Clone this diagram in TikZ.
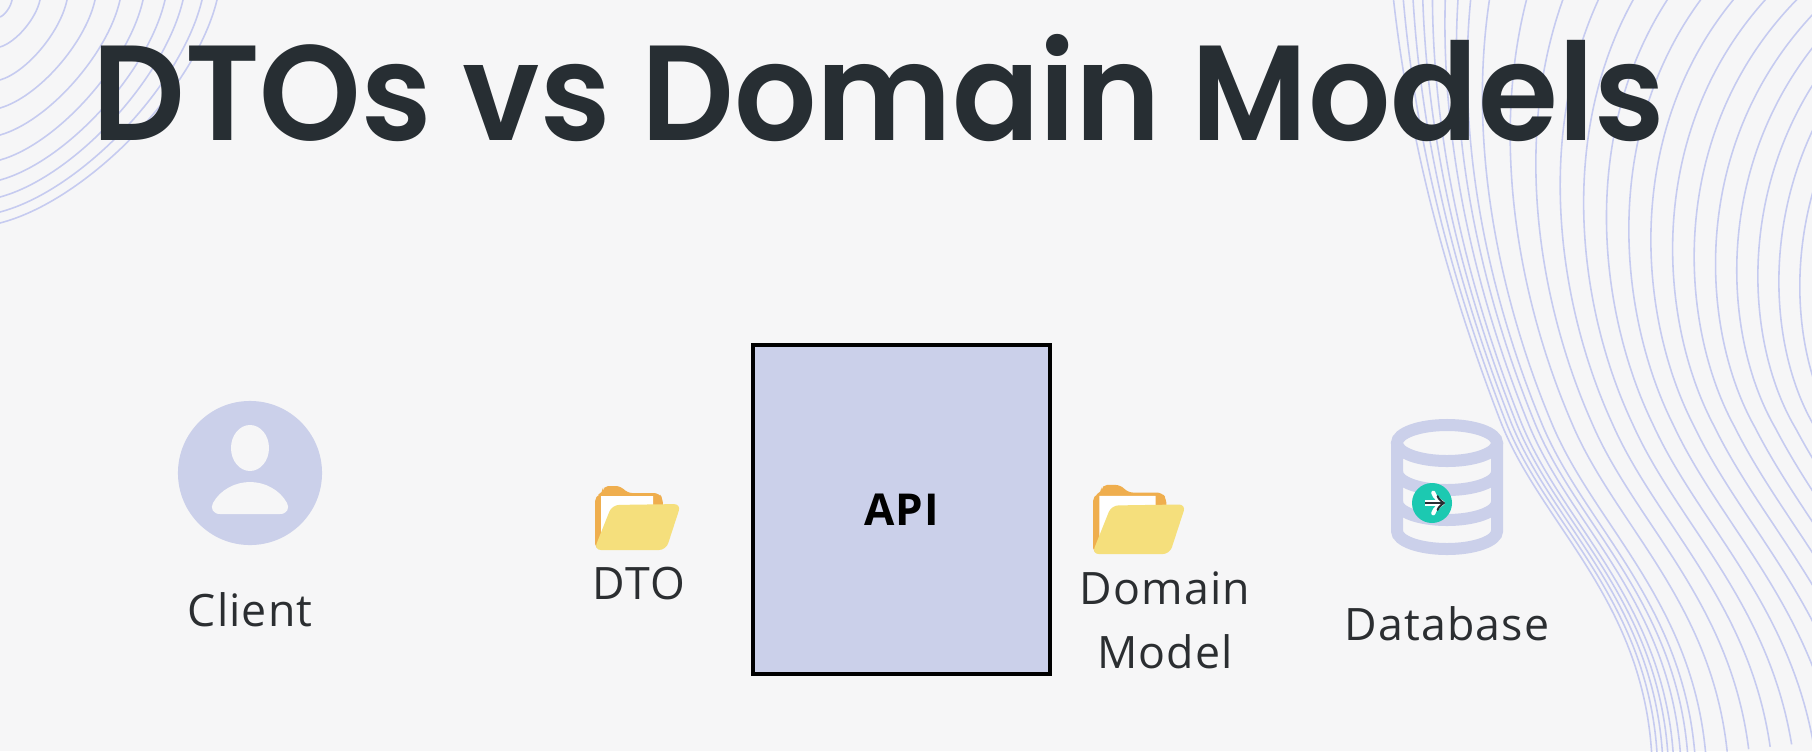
\documentclass[tikz,border=0pt]{standalone}
\usepackage{fontspec}
\setmainfont[LetterSpace=2.5]{Open Sans}
\newfontfamily\titlefont{Poppins SemiBold}
\usetikzlibrary{arrows}
\definecolor{slidebg}{HTML}{F6F6F7}
\definecolor{waveblue}{HTML}{C6CBF0}
\definecolor{iconblue}{HTML}{CBD0EA}
\definecolor{titleink}{HTML}{272E33}
\definecolor{labelink}{HTML}{2B2E31}
\definecolor{folderback}{HTML}{EFAE4E}
\definecolor{folderfront}{HTML}{F5DF7C}
\definecolor{dbteal}{HTML}{1CC9B1}
\newcommand{\wavept}[4]{({#1+\t*(#3-#1)},{#2+\t*(#4-#2)})}
\tikzset{
 waveline/.style={waveblue, line width=.45pt},
 iconlabel/.style={labelink, inner sep=0, align=center, font=\fontsize{12.7}{18.1}\selectfont},
 folder/.pic={
  \fill[folderback, rounded corners=1.5] (0,0) -- (0,-53) -- (8,-56) -- (8,-63) -- (26,-63) -- (32,-56) -- (64,-56) -- (68,-50) -- (68,-30) -- (60,0) -- cycle;
  \fill[white] (6,-53) -- (58,-53) -- (58,-38) -- (18,-38) -- (6,-10) -- cycle;
  \fill[folderfront, rounded corners=2] (-1,1) -- (17,-44) -- (86,-45) -- (71,1) -- cycle;
 }
}
\begin{document}
\begin{tikzpicture}[x=.01cm, y=-.01cm]
\useasboundingbox (0,0) rectangle (1812,751);
\fill[slidebg] (0,0) rectangle (1812,751);
\begin{scope}
\clip (0,0) rectangle (1812,751);
% corner arcs
\foreach \tx/\ly in {12/17,40/47,67/80,95/108,120/135,143/160,165/180,183/197,202/212,217/223} {
 \draw[waveline] (\tx,0) .. controls ({.9*\tx},{.4*\ly}) and ({.4*\tx},{.9*\ly}) .. (0,\ly);
}
% right waves
\foreach \t in {0,.015,.03,.045,.06,.08,.1,.12,.15,.21,.27,.33,.39,.45,.51,.57,.63,.69,.75,.81,.87,.93,.99} {
 \draw[waveline] \wavept{1393}{-5}{2050}{-60} .. controls \wavept{1410}{150}{1780}{60} and \wavept{1450}{290}{1770}{320} .. \wavept{1500}{420}{1840}{430} .. controls \wavept{1540}{524}{1890}{520} and \wavept{1645}{600}{1960}{600} .. \wavept{1652}{760}{2010}{720};
}
\end{scope}
\node[titleink, inner sep=0, anchor=base west, xscale=.955, transform shape, font=\titlefont\fontsize{38.5}{40}\selectfont] (title) at (92,140) {DTOs vs Domain Models};
% client
\fill[iconblue] (250,473) circle (.72cm);
\fill[slidebg] (250,448) ellipse (.19cm and .23cm);
\fill[slidebg] (220,514) .. controls (213,514) and (210,508) .. (213,503) .. controls (220,490) and (235,482) .. (250,482) .. controls (265,482) and (280,490) .. (287,503) .. controls (290,508) and (287,514) .. (280,514) -- cycle;
\node[iconlabel] (client) at (250,610) {Client};
% dto
\path (595,549) pic {folder};
\node[iconlabel] (dto) at (639,584) {DTO};
% api
\node[draw=black, line width=1.1pt, fill=iconblue, minimum width=2.97cm, minimum height=3.29cm, inner sep=0, font=\bfseries\fontsize{12.5}{16}\selectfont, text=black] (api) at (901.5,509.5) {API};
% domain model
\path (1093,553) pic[scale=1.08] {folder};
\node[iconlabel] (domain) at (1165,620) {Domain\\Model};
% database
\draw[iconblue, line width=.12cm] (1447,443) ellipse (.5cm and .18cm);
\draw[iconblue, line width=.12cm] (1397,443) -- (1397,531) arc[start angle=180, end angle=360, x radius=.5cm, y radius=.18cm] -- (1497,443);
\foreach \yy in {472,502} {
 \draw[iconblue, line width=.12cm] (1397,\yy) arc[start angle=180, end angle=360, x radius=.5cm, y radius=.18cm];
}
\fill[dbteal] (1432,503) circle (.2cm);
\coordinate (arrowtail) at (1425,503);
\coordinate (arrowhead) at (1445,503);
\draw[white, line width=1.5pt, ->] (arrowtail) -- (arrowhead);
\draw[titleink, line width=.7pt, ->] (arrowtail) -- (arrowhead);
\node[iconlabel] (database) at (1447,624) {Database};
\end{tikzpicture}
\end{document}
